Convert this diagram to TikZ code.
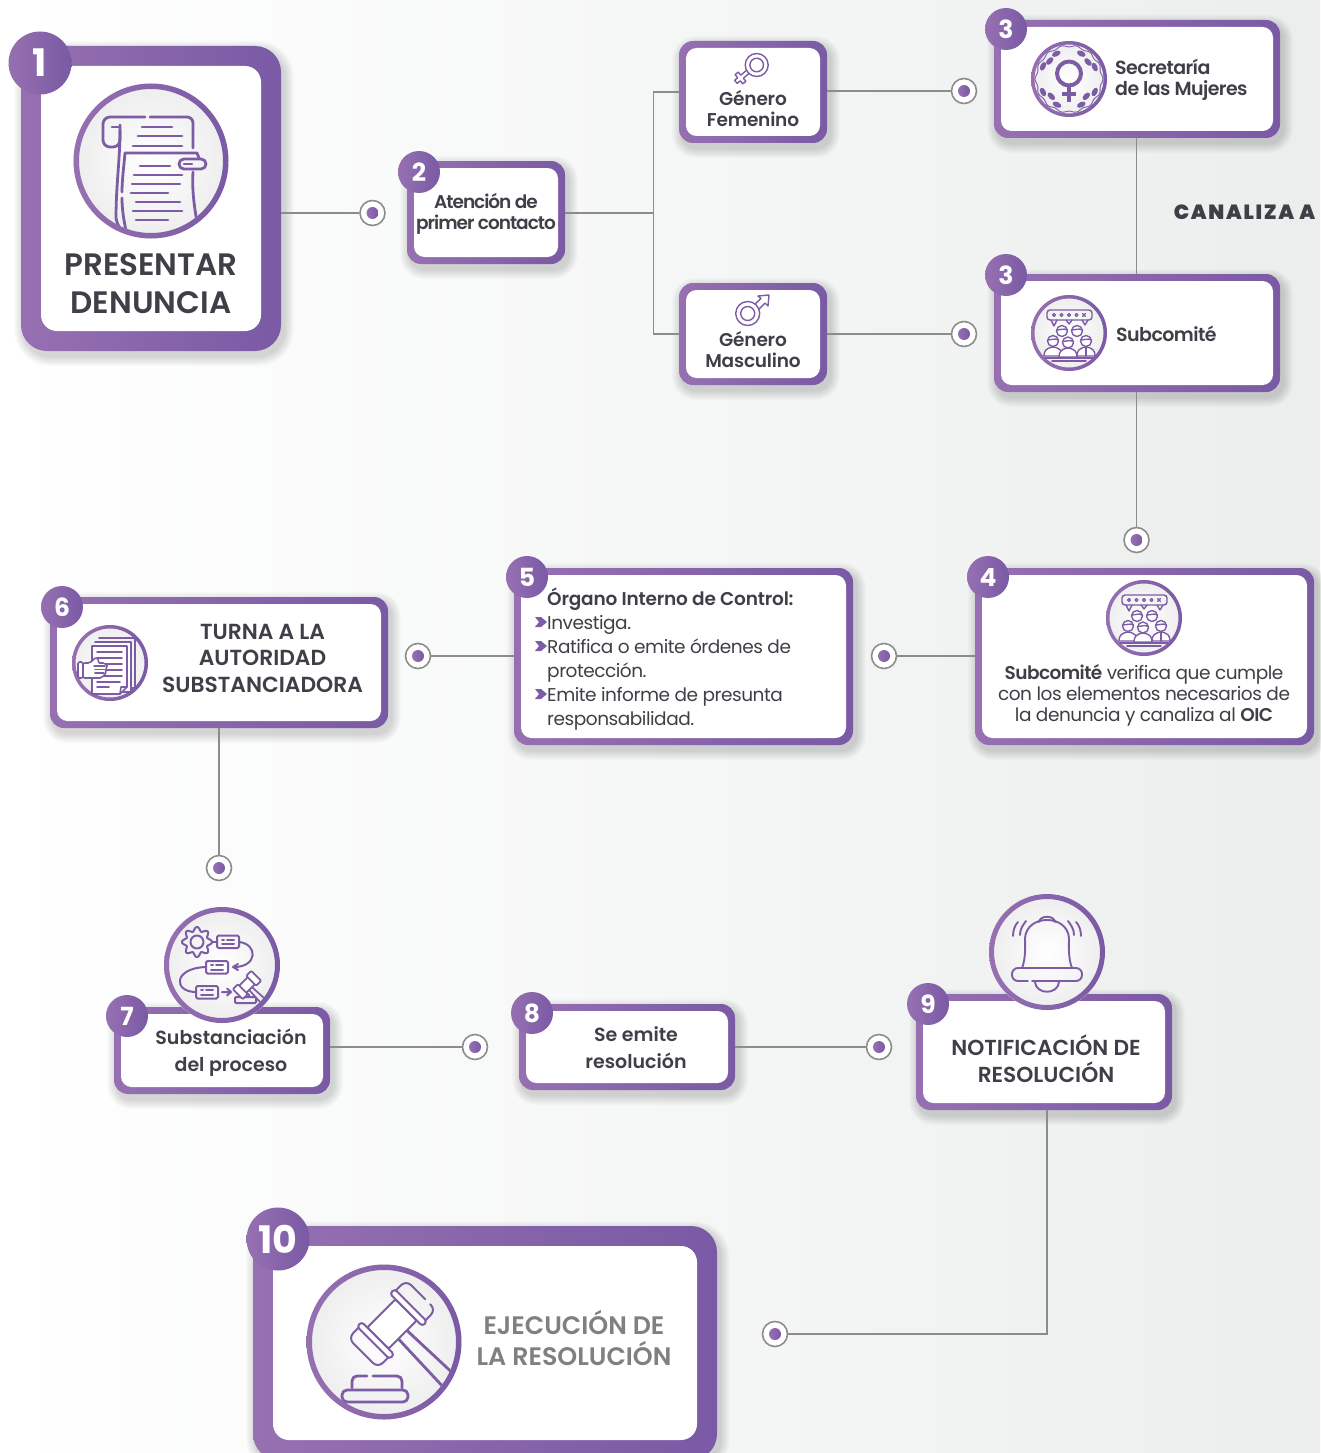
\documentclass[tikz,border=0pt]{standalone}
\usepackage{fontspec}
\setmainfont{Poppins}
\newfontfamily\popreg[LetterSpace=-2.5]{Poppins}
\newfontfamily\popmed[LetterSpace=-3]{Poppins SemiBold}
\newfontfamily\poptighter[LetterSpace=-5.5]{Poppins SemiBold}
\newfontfamily\popsemi{Poppins SemiBold}
\newfontfamily\poptight[LetterSpace=-1]{Poppins SemiBold}
\newfontfamily\popbold{Poppins Bold}
\newfontfamily\popheavy[LetterSpace=8]{Poppins Black}
\usetikzlibrary{calc}
\definecolor{pl}{HTML}{9670B1}
\definecolor{pr}{HTML}{7A5AA5}
\definecolor{ink}{HTML}{3F3F47}
\definecolor{wire}{HTML}{8C8C8C}
\definecolor{bgr}{HTML}{ECEEEE}
\tikzset{
  outerbox/.style={left color=pl,right color=pr,inner sep=0pt,outer sep=0pt},
  innerbox/.style={fill=white,inner sep=0pt,outer sep=0pt},
  badge/.style={circle,left color=pl,right color=pr,inner sep=0pt,outer sep=0pt,text=white},
  targetring/.style={circle,draw=wire,line width=1.6pt,fill=white,minimum size=25pt,inner sep=0pt},
  targetdot/.style={circle,left color=pl,right color=pr,minimum size=12pt,inner sep=0pt},
  wirepath/.style={draw=wire,line width=1.8pt},
  txt/.style={text=ink,inner sep=0pt,align=center},
  ico/.style={draw=pr!90!pl,line width=2pt,line cap=round,line join=round},
  icothin/.style={draw=pr!90!pl,line width=1.4pt,line cap=round,line join=round},
  ringnode/.style={circle,inner sep=0pt,outer sep=0pt,fill=white},
}
% box: name x1 y1 x2 y2 border radius
\newcommand{\pbox}[7]{%
  \pgfmathsetmacro{\cxx}{(#2+#4)/2}\pgfmathsetmacro{\cyy}{(#3+#5)/2}%
  \pgfmathsetmacro{\ww}{#4-#2}\pgfmathsetmacro{\hh}{#5-#3}%
  \pgfmathsetmacro{\wi}{\ww-2*#6}\pgfmathsetmacro{\hi}{\hh-2*#6}%
  \pgfmathsetmacro{\ri}{#7-#6*0.5}%
  \foreach \s in {1,...,10}{%
    \pgfmathsetmacro{\rr}{#7+\s}%
    \fill[black,opacity=.016,rounded corners=\rr pt] (#2-\s+3,#3-\s+5) rectangle (#4+\s+3,#5+\s+5);}%
  \node[outerbox,rounded corners=#7 pt,minimum width=\ww pt,minimum height=\hh pt] (#1) at (\cxx,\cyy) {};%
  \node[innerbox,rounded corners=\ri pt,minimum width=\wi pt,minimum height=\hi pt] (#1-in) at (\cxx,\cyy) {};%
}
% badge: name x y radius fontsize text
\newcommand{\pbadge}[6]{%
  \node[badge,minimum size=#4*2 pt,font=\popbold\fontsize{#5}{#5}\selectfont] (#1) at (#2,#3) {#6};}
% target: name x y
\newcommand{\ptarget}[3]{%
  \node[targetring] (#1) at (#2,#3) {};\node[targetdot] (#1-dot) at (#2,#3) {};}
% icon ring: name x y radius ringwidth
\newcommand{\pring}[5]{%
  \pgfmathsetmacro{\dd}{2*#4}%
  \node[ringnode,minimum size=\dd pt,inner color=white,outer color=black!7] (#1) at (#2,#3) {};%
  \draw[draw=none,left color=pl,right color=pr,even odd rule] (#2,#3) circle (#4pt) (#2,#3) circle (#4pt-#5pt);}
\newcommand{\gavelhead}{%
  \draw[ico,rounded corners=1.5pt,fill=white] (-20,-15) rectangle (20,15);
  \draw[ico,rounded corners=3pt,fill=white] (-26.5,-23) rectangle (-20,23);
  \draw[ico,rounded corners=3pt,fill=white] (20,-23) rectangle (26.5,23);
  \draw[ico,rounded corners=7pt] (-26.5,-21) -- (-41,-21) -- (-41,21) -- (-26.5,21);
  \draw[ico,rounded corners=7pt] (26.5,-21) -- (41,-21) -- (41,6);
  \draw[ico,rounded corners=7pt] (41,13) -- (41,21) -- (26.5,21);
}
\newcommand{\onehead}[2]{%
  \draw[fill=white] (#1,#2) circle (5.5pt);
  \draw (#1-5.5,#2-1) .. controls (#1-2,#2-1) and (#1+2,#2-3) .. (#1+5.5,#2-1);}
\newcommand{\onebody}[2]{%
  \draw[fill=white] (#1,#2+6) .. controls (#1-7,#2+7) and (#1-9,#2+10) .. (#1-9,#2+15) -- (#1+9,#2+15) .. controls (#1+9,#2+10) and (#1+7,#2+7) .. (#1,#2+6);}
\newcommand{\peopleicon}[1]{%
 \begin{scope}[shift={(#1)},icothin]
  \draw[rounded corners=3pt] (-22,-23) rectangle (23,-13);
  \foreach \x in {-15,-7.5,0,7.5}{\draw[line width=1.1pt] (\x,-18) circle (1.5pt);}
  \draw[line width=1.1pt] (13.5,-19.5) -- (16.5,-16.5) (13.5,-16.5) -- (16.5,-19.5);
  \draw (-18,-13) -- (-15,-7) -- (-12,-13) (-3,-13) -- (0,-9) -- (3,-13) (13,-13) -- (16,-8) -- (19,-13);
  \onehead{-7}{-2}
  \onehead{8}{-2}
  \onebody{-16}{8}
  \onebody{17}{8}
  \onebody{-1}{9}
  \onehead{-16}{8}
  \onehead{17}{8}
  \onehead{-1}{9.5}
  \draw (17,15) -- (17,23);
  \draw (-24,25) -- (24,25);
  \draw (-17,28) -- (17,28);
 \end{scope}}
\begin{document}
\begin{tikzpicture}[x=1pt,y=-1pt]
\useasboundingbox (0,0) rectangle (1320,1453);
\shade[left color=white,right color=bgr] (0,0) rectangle (1320,1453);

% ---------- boxes
\pbox{n1}{21}{46}{281}{351}{20}{26}
\pbox{n2}{407}{161}{565}{264}{7}{14}
\pbox{gf}{679}{41}{827}{143}{7}{14}
\pbox{gm}{679}{283}{827}{385}{7}{14}
\pbox{n3a}{994}{20}{1280}{138}{7}{14}
\pbox{n3b}{994}{274}{1280}{392}{7}{14}
\pbox{n4}{975}{568}{1314}{745}{7}{14}
\pbox{n5}{514}{568}{853}{745}{7}{14}
\pbox{n6}{50}{597}{388}{728}{7}{14}
\pbox{n7}{114}{1007}{330}{1094}{7}{14}
\pbox{n8}{519}{1004}{735}{1090}{7}{14}
\pbox{n9}{916}{994}{1172}{1110}{7}{14}
\pbox{n10}{253}{1226}{717}{1460}{20}{26}

% ---------- targets
\ptarget{t1}{372.5}{213}
\ptarget{t2}{964}{91}
\ptarget{t3}{964}{334}
\ptarget{t4}{1136.5}{540}
\ptarget{t5}{884}{656}
\ptarget{t6}{418}{656}
\ptarget{t7}{219}{868}
\ptarget{t8}{475}{1047}
\ptarget{t9}{879}{1047}
\ptarget{t10}{775}{1334}
\coordinate (jn) at (653.5,213);
\coordinate (c9) at (1047,1110);

% ---------- connectors
\draw[wirepath] (n1.east |- t1) -- (t1);
\draw[wirepath] (n2.east |- jn) -- (jn);
\draw[wirepath] (gf.west) -| (jn);
\draw[wirepath] (gm.west) -| (jn);
\draw[wirepath] (gf.east |- t2) -- (t2);
\draw[wirepath] (gm.east |- t3) -- (t3);
\draw[wirepath] (n3a.south -| t4) -- (n3b.north -| t4);
\draw[wirepath] (n3b.south -| t4) -- (t4);
\draw[wirepath] (n4.west |- t5) -- (t5);
\draw[wirepath] (n5.west |- t6) -- (t6);
\draw[wirepath] (n6.south -| t7) -- (t7);
\draw[wirepath] (n7.east |- t8) -- (t8);
\draw[wirepath] (n8.east |- t9) -- (t9);
\draw[wirepath] (c9) |- (t10);

% ---------- badges
\pbadge{b1}{40}{63}{31.5}{38}{1}
\pbadge{b2}{419}{172}{21}{25}{2}
\pbadge{b3a}{1006}{29}{21}{25}{3}
\pbadge{b3b}{1006}{275}{21}{25}{3}
\pbadge{b4}{988}{577}{21}{25}{4}
\pbadge{b5}{527}{577}{21}{25}{5}
\pbadge{b6}{62}{607}{21}{25}{6}
\pbadge{b7}{127}{1016}{21}{25}{7}
\pbadge{b8}{532}{1013}{21}{25}{8}
\pbadge{b9}{928}{1004}{21}{25}{9}
\pbadge{b10}{278}{1239}{31.5}{38}{10}

% ---------- texts
\node[txt,font=\popsemi\fontsize{31}{38}\selectfont] (l1) at (151,284) {PRESENTAR\\DENUNCIA};
\node[txt,font=\poptighter\fontsize{18.5}{21}\selectfont] (l2) at (486,213.5) {Atención de\\primer contacto};
\node[txt,font=\poptight\fontsize{18.5}{21}\selectfont] (lgf) at (753,108.5) {Género\\Femenino};
\node[txt,font=\poptight\fontsize{18.5}{21}\selectfont] (lgm) at (753,349.5) {Género\\Masculino};
\node[txt,anchor=west,align=left,font=\popmed\fontsize{19}{21}\selectfont] (l3a) at (1115,80) {Secretaría\\de las Mujeres};
\node[txt,anchor=west,font=\popmed\fontsize{19}{21}\selectfont] (l3b) at (1116,334) {Subcomité};
\node[txt,font=\popheavy\fontsize{20.5}{21}\selectfont] (lc) at (1244.5,212) {CANALIZA A};
\node[txt,font=\popreg\fontsize{18.5}{21}\selectfont] (l4) at (1144,695) {{\popmed Subcomité} verifica que cumple\\con los elementos necesarios de\\la denuncia y canaliza al {\popmed OIC}};
\node[txt,anchor=west,align=left,font=\popreg\fontsize{18.5}{24}\selectfont] (l5) at (547,659) {{\poptight Órgano Interno de Control:}\\Investiga.\\Ratifica o emite órdenes de\\protección.\\Emite informe de presunta\\responsabilidad.};
\node[txt,font=\popsemi\fontsize{21.8}{26.5}\selectfont] (l6) at (262.5,658) {TURNA A LA\\AUTORIDAD\\SUBSTANCIADORA};
\node[txt,font=\popsemi\fontsize{19}{27}\selectfont] (l7) at (231,1053) {Substanciación\\del proceso};
\node[txt,font=\popsemi\fontsize{19}{27}\selectfont] (l8) at (636,1048) {Se emite\\resolución};
\node[txt,font=\popsemi\fontsize{21.7}{27}\selectfont] (l9) at (1046,1058.5) {NOTIFICACIÓN DE\\RESOLUCIÓN};
\node[txt,text=black!50,font=\popsemi\fontsize{25.3}{31}\selectfont] (l10) at (574,1337.5) {EJECUCIÓN DE\\LA RESOLUCIÓN};

% chevrons box 5
\foreach \yy in {622,646,694}{
  \fill[pr!90!pl] (535,\yy-5) -- (541,\yy-5) -- (547,\yy) -- (541,\yy+5) -- (535,\yy+5) -- (539,\yy) -- cycle;}

% ---------- gender icons
\begin{scope}[icothin]
 \draw (756.7,65) circle (11.5pt) (756.7,65) circle (6.8pt);
 \draw[shift={(740.5,78)},rotate=40] (9.5,-2) -- (2,-2) -- (2,-6) -- (-2,-6) -- (-2,-2) -- (-6,-2) -- (-6,2) -- (-2,2) -- (-2,6) -- (2,6) -- (2,2) -- (9.5,2);
\end{scope}
\begin{scope}[icothin]
 \draw (747.7,313.5) circle (12pt) (747.7,313.5) circle (7pt);
 \draw (755,304) -- (761,298.5) -- (758,296) -- (769,295) -- (768,306) -- (765,303) -- (759,309);
\end{scope}

% ---------- icon 1 : scroll
\pring{i1}{151}{161}{77.5}{5.5}
\begin{scope}[ico,line width=2.8pt]
 \clip (151,161) circle (72pt);
 \draw[rounded corners=7pt] (145,117) -- (103,117) -- (103,147) -- (120,147) -- (120,125);
 \draw[rounded corners=6pt] (150,117) -- (193,117) -- (193,148);
 \draw (112,127) -- (120,127);
 \draw (120,130) .. controls (120,160) and (116,185) .. (116,218) .. controls (117,225) and (120,228) .. (123,232);
 \draw (125,153) .. controls (124,165) and (122,180) .. (122,192);
 \draw (122,198) .. controls (122,210) and (124,222) .. (127,235);
 \draw (125,153) -- (197,153) -- (199,158);
 \draw (193,172) .. controls (192,190) and (194,205) .. (197,222);
 \draw[rounded corners=4.9pt] (179,159) rectangle (206,169);
 \draw (184,164) -- (192,164);
 \foreach \xa/\xb/\yy in {142/172/127,138/182/136,133/182/146,140/170/166,134/182/175,132/180/184,131/168/193,136/180/202,133/182/211,136/168/220}
   {\draw (\xa,\yy) -- (\xb,\yy);}
\end{scope}

% ---------- icon 3a : female symbol and leaves
\pring{i3a}{1069}{79}{38}{3.5}
\begin{scope}[shift={(1069,79)}]
 \foreach \lx/\ly in {-12.7/-25.3,12.3/-25.3,-19.3/-18,19/-17,-26/-12.7,25.7/-12,-26/13,25.7/13,-17.7/17.3,17.3/17.3,-12/25.7,12.3/25.7}{
   \pgfmathsetmacro{\ang}{atan2(-\ly,\lx)+90}
   \fill[pr!90!pl,shift={(\lx,\ly)},rotate=\ang] (0,0) ellipse (4.6pt and 2.7pt);}
 \draw[icothin,line width=.9pt] plot[domain=0:360,samples=145,smooth] ({(33+.9*cos(14*\x))*cos(\x)},{(33+.9*cos(14*\x))*sin(\x)}) -- cycle;
 \draw[ico,line width=4pt] (0,-5.5) circle (12pt);
 \draw[ico,line width=4.5pt,line cap=butt] (0,7) -- (0,23) (-7,15) -- (7,15);
\end{scope}

% ---------- icon 3b, 4 : people
\pring{i3b}{1069}{333}{38}{3.5}
\peopleicon{1069,333}
\pring{i4}{1144}{618}{38}{3.5}
\peopleicon{1144,618}

% ---------- icon 6 : documents and hand
\pring{i6}{110}{663}{38}{3.5}
\begin{scope}[shift={(110,663)},icothin,line width=1.6pt]
 \draw (-11,-25) -- (25,-25) -- (25,25) -- (15,25);
 \draw[fill=white] (-15,-21) -- (21,-21) -- (21,29) -- (12,29);
 \draw[fill=white] (-18,-17) -- (17,-17) -- (17,24) -- (10,31) -- (-18,31) -- cycle;
 \draw (17,24) -- (11,24) -- (10,31);
 \foreach \yy/\xb in {-11/12,-5/12,1/12,7/12,13/12,19/10,24/-1}{\draw (-13,\yy) -- (\xb,\yy);}
 \draw[fill=white,rounded corners=1.5pt] (-32,-1) rectangle (-27,15);
 \draw[fill=white,rounded corners=2pt] (-27,0) -- (-20,0) -- (-14,-6) -- (-11,-4) -- (-12,0) -- (-5,0) -- (-2,3) -- (-5,6) -- (-3,9) -- (-6,12) -- (-8,15) -- (-27,15) -- cycle;
 \draw (-16,3) -- (-5,3) (-15,6.5) -- (-5,6.5) (-15,10) -- (-6,10);
\end{scope}

% ---------- icon 7 : process
\pring{i7}{222}{965}{58}{5}
\begin{scope}[icothin,line width=2pt]
 \clip (222,965) circle (53pt);
 \draw (197,942) circle (6.5pt);
 \draw plot[domain=0:360,samples=121,smooth] ({197+(13+2*cos(8*\x))*cos(\x)},{942+(13+2*cos(8*\x))*sin(\x)}) -- cycle;
 \draw (212,942) -- (217,942);
 \draw[rounded corners=1.5pt] (217,935.5) rectangle (239,948);
 \draw (222,939.5) -- (224,939.5) (227,939.5) -- (234,939.5) (222,944) -- (234,944);
 \draw (239,942) .. controls (258,944) and (258,967) .. (234,967);
 \draw (238,964) -- (233,967) -- (238,970);
 \draw[rounded corners=1.5pt] (206,961) rectangle (228,973.5);
 \draw (211,965) -- (213,965) (216,965) -- (223,965) (211,969.5) -- (223,969.5);
 \draw (206,967) .. controls (173,968) and (173,992) .. (196,992);
 \draw[rounded corners=1.5pt] (196,986) rectangle (218,998.5);
 \draw (201,990) -- (203,990) (206,990) -- (213,990) (201,994.5) -- (213,994.5);
 \draw (222,992) -- (231,992) (227,988.5) -- (231,992) -- (227,995.5);
 \draw[rounded corners=1pt] (240,997) -- (240,994) -- (249,994) -- (249,997);
 \draw[rounded corners=1pt] (235,997) rectangle (256,1003);
 \begin{scope}[shift={(247,985)},rotate=45,line width=1.7pt]
  \draw (-2,5) -- (-3,24) (2,5) -- (3,24);
  \draw[fill=white] (-6,-5) rectangle (6,5);
  \draw[fill=white,rounded corners=1pt] (-13,-7) rectangle (-6,7);
  \draw[fill=white,rounded corners=1pt] (6,-7) rectangle (13,7);
 \end{scope}
\end{scope}

% ---------- icon 9 : bell
\pring{i9}{1047}{952}{58}{5}
\begin{scope}[icothin,line width=1.9pt]
 \draw (1039,922) .. controls (1040,915) and (1054,915) .. (1055,922);
 \draw (1022,968) .. controls (1026,958) and (1025,945) .. (1025,938) .. controls (1026,926) and (1036,920) .. (1047,920) .. controls (1058,920) and (1068,926) .. (1069,938) .. controls (1069,945) and (1068,958) .. (1072,968);
 \draw[rounded corners=6pt] (1028,981) -- (1012,981) -- (1012,968) -- (1082,968) -- (1082,981) -- (1032,981);
 \draw (1035,982) .. controls (1036,995) and (1058,995) .. (1059,982);
 \draw (1013,936) .. controls (1013,930) and (1015,925) .. (1018,922);
 \draw (1020,935) .. controls (1020,929) and (1023,925) .. (1026,921);
 \draw (1081,936) .. controls (1081,930) and (1079,925) .. (1076,922);
 \draw (1074,935) .. controls (1074,929) and (1071,925) .. (1068,921);
\end{scope}

% ---------- icon 10 : gavel
\pring{i10}{384}{1342}{77.5}{5.5}
\begin{scope}[ico,line width=2.8pt]
 \clip (384,1342) circle (72pt);
 \begin{scope}[shift={(392,1324)},rotate=45]
  \draw (-6,15) -- (-9,100) (6,15) -- (9,100);
  \gavelhead
 \end{scope}
 \draw[rounded corners=5pt] (352,1388) -- (352,1376) -- (367,1376);
 \draw[rounded corners=5pt] (373,1376) -- (402,1376) -- (402,1388);
 \draw[rounded corners=5pt] (345,1402) -- (342,1402) -- (342,1390) -- (408,1390) -- (408,1402) -- cycle;
\end{scope}
\end{tikzpicture}
\end{document}
